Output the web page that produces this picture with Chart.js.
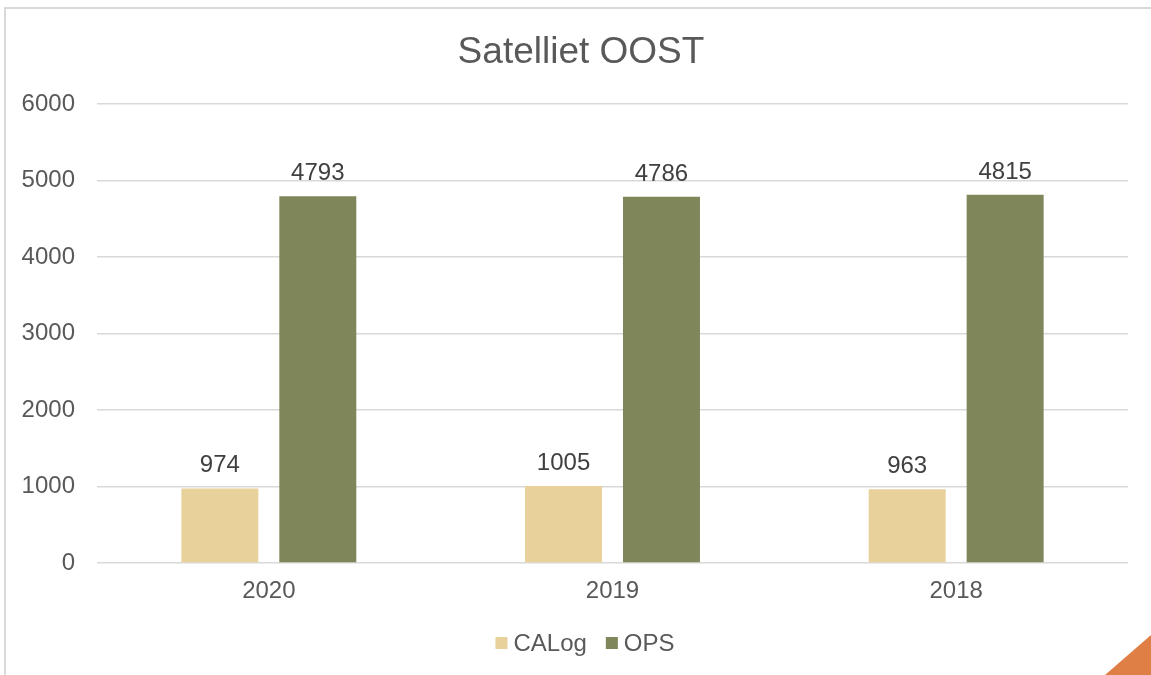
<!DOCTYPE html>
<html>
<head>
<meta charset="utf-8">
<script src="https://cdn.jsdelivr.net/npm/chart.js@4/dist/chart.umd.min.js"></script>
<style>
html,body{margin:0;padding:0;background:#fff;}
#wrap{width:1151px;height:675px;position:relative;}
</style>
</head>
<body>
<div id="wrap"><canvas id="c" width="1151" height="675"></canvas></div>
<script>
const categories = ["2020", "2019", "2018"];
const calogValues = [974, 1005, 963];
const opsValues = [4793, 4786, 4815];
const seriesNames = ["CALog", "OPS"];
const seriesColors = ["#E8D19B", "#7F865A"];
const titleText = "Satelliet OOST";

const FONT = "'Liberation Sans', Arial, sans-serif";

const decorPlugin = {
  id: 'decor',
  beforeDraw(chart) {
    const ctx = chart.ctx;
    ctx.save();
    ctx.fillStyle = '#ffffff';
    ctx.fillRect(0, 0, chart.width, chart.height);
    ctx.strokeStyle = '#d9d9d9';
    ctx.lineWidth = 2;
    ctx.beginPath();
    ctx.moveTo(5, chart.height);
    ctx.lineTo(5, 8);
    ctx.lineTo(chart.width, 8);
    ctx.stroke();
    ctx.fillStyle = '#E07F45';
    ctx.beginPath();
    ctx.moveTo(1105, chart.height);
    ctx.lineTo(chart.width, 635);
    ctx.lineTo(chart.width, chart.height);
    ctx.closePath();
    ctx.fill();
    ctx.restore();
  },
  afterDatasetsDraw(chart) {
    const ctx = chart.ctx;
    ctx.save();
    ctx.font = "24px " + FONT;
    ctx.fillStyle = '#404040';
    ctx.textAlign = 'center';
    ctx.textBaseline = 'alphabetic';
    chart.data.datasets.forEach((ds, i) => {
      const meta = chart.getDatasetMeta(i);
      meta.data.forEach((bar, j) => {
        ctx.fillText(String(ds.data[j]), bar.x, bar.y - 16);
      });
    });
    ctx.restore();
  },
  afterDraw(chart) {
    const ctx = chart.ctx;
    ctx.save();
    // title
    ctx.font = "37px " + FONT;
    ctx.fillStyle = '#595959';
    ctx.textAlign = 'center';
    ctx.textBaseline = 'alphabetic';
    ctx.fillText(titleText, 581, 63);
    // legend
    ctx.font = "24px " + FONT;
    const box = 12, gapText = 6, gapItem = 19;
    const items = chart.data.datasets.map(ds => ({ label: ds.label, color: ds.backgroundColor, w: ctx.measureText(ds.label).width }));
    let total = 0;
    items.forEach((it, i) => { total += box + gapText + it.w + (i < items.length - 1 ? gapItem : 0); });
    let x = 585 - total / 2;
    const cy = 643;
    ctx.textBaseline = 'middle';
    ctx.textAlign = 'left';
    items.forEach(it => {
      ctx.fillStyle = it.color;
      ctx.fillRect(x, cy - box / 2, box, box);
      x += box + gapText;
      ctx.fillStyle = '#595959';
      ctx.fillText(it.label, x, cy + 1);
      x += it.w + gapItem;
    });
    ctx.restore();
  }
};

new Chart(document.getElementById('c'), {
  type: 'bar',
  data: {
    labels: categories,
    datasets: [
      { label: seriesNames[0], data: calogValues, backgroundColor: seriesColors[0], categoryPercentage: 0.57, barPercentage: 0.786 },
      { label: seriesNames[1], data: opsValues, backgroundColor: seriesColors[1], categoryPercentage: 0.57, barPercentage: 0.786 }
    ]
  },
  options: {
    responsive: false,
    animation: false,
    devicePixelRatio: 1,
    layout: { padding: { left: 22, right: 23, top: 104, bottom: 72 } },
    plugins: {
      title: { display: false },
      legend: { display: false },
      tooltip: { enabled: false }
    },
    scales: {
      x: {
        afterFit(scale) { scale.height = 40; },
        grid: { display: false },
        border: { display: false },
        ticks: { color: '#595959', font: { family: FONT, size: 24 }, padding: 6 }
      },
      y: {
        min: 0, max: 6000,
        afterFit(scale) { scale.width = 75; },
        ticks: { stepSize: 1000, color: '#595959', font: { family: FONT, size: 24 }, padding: 22,
                 callback: (v) => String(v) },
        grid: { color: '#d9d9d9', lineWidth: 1.5, drawTicks: false },
        border: { display: false }
      }
    }
  },
  plugins: [decorPlugin]
});
</script>
</body>
</html>
